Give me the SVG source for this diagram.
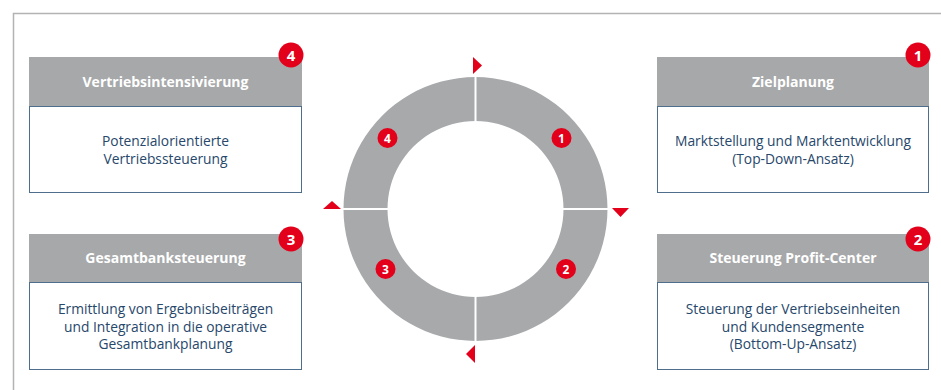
<svg xmlns="http://www.w3.org/2000/svg" width="941" height="390" viewBox="0 0 941 390">
<style>
.hdr{fill:#a7a8aa}
.body{fill:#fff;stroke:#4f6e8e;stroke-width:1}
.ht{font-family:"Open Sans","Noto Sans",sans-serif;font-weight:700;font-size:14px;fill:#fff;text-anchor:middle}
.bt{font-family:"Open Sans","Noto Sans",sans-serif;font-size:13.8px;fill:#27476b;text-anchor:middle}
.badge{fill:#e2001a}
.bn{font-family:"Open Sans","Noto Sans",sans-serif;font-weight:700;fill:#fff;text-anchor:middle}
.tri{fill:#e2001a}
</style>
<rect width="941" height="390" fill="#fff"/>
<path d="M13.5 400 V13.5 H941" fill="none" stroke="#b3b3b3" stroke-width="1.5"/>

<g id="ring">
<path fill="#a7a9ab" fill-rule="evenodd" d="M475.5 77 A132 132 0 1 1 475.49 77 Z M475.5 121 A88 88 0 1 0 475.51 121 Z"/>
<line x1="475.5" y1="75" x2="475.5" y2="343" stroke="#fff" stroke-width="2"/>
<line x1="342" y1="209" x2="609" y2="209" stroke="#fff" stroke-width="2"/>
<circle class="badge" cx="561.5" cy="138" r="10"/><text class="bn" x="561.5" y="142.5" font-size="12">1</text>
<circle class="badge" cx="566" cy="269" r="10"/><text class="bn" x="566" y="273.5" font-size="12">2</text>
<circle class="badge" cx="385.5" cy="269" r="10"/><text class="bn" x="385.5" y="273.5" font-size="12">3</text>
<circle class="badge" cx="387.5" cy="138" r="10"/><text class="bn" x="387.5" y="142.5" font-size="12">4</text>
</g>

<g id="connectors">
<polygon class="tri" points="473,57 482,65.5 473,74"/>
<polygon class="tri" points="612,208 629,208 620.5,217"/>
<polygon class="tri" points="475,345 475,363 466,354"/>
<polygon class="tri" points="323,209 341,209 332,201"/>
</g>

<g id="n4">
<rect class="hdr" x="29" y="57" width="273" height="49"/>
<rect class="body" x="29.5" y="106.5" width="272" height="86"/>
<text class="ht" x="165.5" y="87">Vertriebsintensivierung</text>
<text class="bt" x="165.5" y="146">Potenzialorientierte</text>
<text class="bt" x="165.5" y="163.5">Vertriebssteuerung</text>
<circle class="badge" cx="291" cy="55" r="12.5"/><text class="bn" x="291" y="60.5" font-size="15">4</text>
</g>

<g id="n3">
<rect class="hdr" x="29" y="234" width="273" height="48"/>
<rect class="body" x="29.5" y="282.5" width="272" height="87"/>
<text class="ht" x="165.5" y="263">Gesamtbanksteuerung</text>
<text class="bt" x="165.5" y="314">Ermittlung von Ergebnisbeiträgen</text>
<text class="bt" x="165.5" y="331.5">und Integration in die operative</text>
<text class="bt" x="165.5" y="349">Gesamtbankplanung</text>
<circle class="badge" cx="291" cy="239" r="12.5"/><text class="bn" x="291" y="244.5" font-size="15">3</text>
</g>

<g id="n1">
<rect class="hdr" x="657" y="57" width="272" height="49"/>
<rect class="body" x="657.5" y="106.5" width="271" height="86"/>
<text class="ht" x="793" y="87">Zielplanung</text>
<text class="bt" x="793" y="146">Marktstellung und Marktentwicklung</text>
<text class="bt" x="793" y="163.5">(Top-Down-Ansatz)</text>
<circle class="badge" cx="918" cy="55" r="12.5"/><text class="bn" x="918" y="60.5" font-size="15">1</text>
</g>

<g id="n2">
<rect class="hdr" x="657" y="234" width="272" height="48"/>
<rect class="body" x="657.5" y="282.5" width="271" height="87"/>
<text class="ht" x="793" y="263">Steuerung Profit-Center</text>
<text class="bt" x="793" y="314">Steuerung der Vertriebseinheiten</text>
<text class="bt" x="793" y="331.5">und Kundensegmente</text>
<text class="bt" x="793" y="349">(Bottom-Up-Ansatz)</text>
<circle class="badge" cx="918" cy="239" r="12.5"/><text class="bn" x="918" y="244.5" font-size="15">2</text>
</g>
</svg>
